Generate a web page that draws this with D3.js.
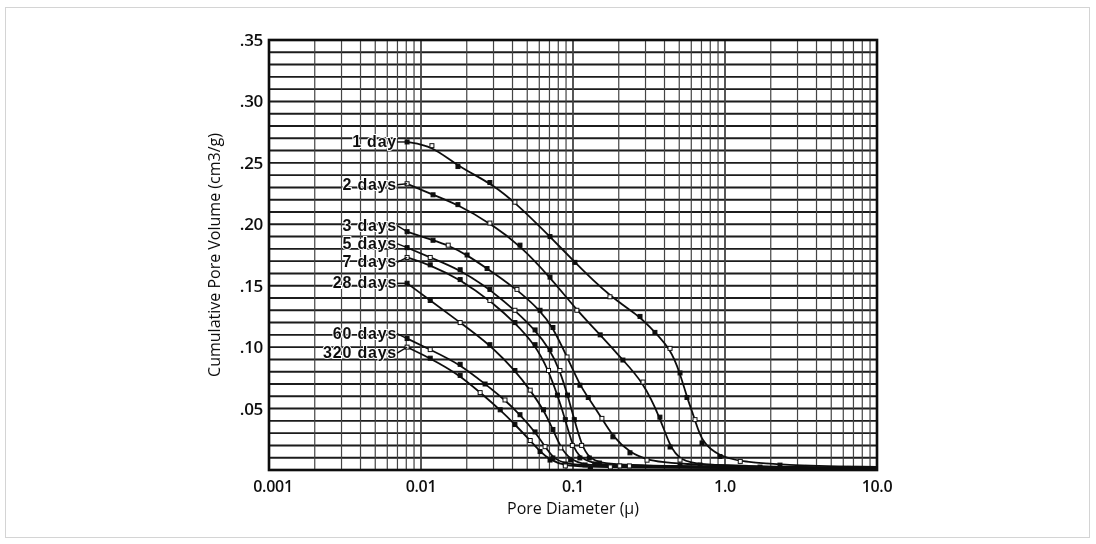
<!DOCTYPE html>
<head>
<meta charset="utf-8">
<title>Cumulative pore volume vs pore diameter</title>
<script src="https://d3js.org/d3.v7.min.js"></script>
<style>
body {
  margin: 0;
  background: #fff;
  font-family: "Open Sans", "Liberation Sans", sans-serif;
}
.grid line {
  stroke: #1a1a1a;
}
.curve {
  fill: none;
  stroke: #111;
  stroke-width: 1.8px;
}
.tick-label {
  font-size: 16px;
  font-weight: 600;
  fill: #111;
  letter-spacing: -0.3px;
}
.axis-title {
  font-size: 16px;
  font-weight: 500;
  fill: #111;
}
.series-label {
  font-family: "Liberation Sans", sans-serif;
  font-size: 16px;
  font-weight: bold;
  letter-spacing: 0.8px;
  fill: #111;
}
</style>
</head>
<body>
<script>

const width = 1096,
  height = 544;

// plot frame
const margin = {top: 40, right: 219, bottom: 74, left: 269};

// tick labels
const yTicks = [0.05, 0.10, 0.15, 0.20, 0.25, 0.30, 0.35];
const yTickLabels = [".05", ".10", ".15", ".20", ".25", ".30", ".35"];
const xTicks = [0.001, 0.01, 0.1, 1, 10];
const xTickLabels = ["0.001", "0.01", "0.1", "1.0", "10.0"];

// series: [pore diameter (μ), cumulative pore volume (cm3/g)]
const seriesNames = ["1 day", "2 days", "3 days", "5 days", "7 days", "28 days", "60 days", "320 days"];

const day1 = [[0.0081,0.267],[0.0118,0.264],[0.0175,0.247],[0.0284,0.234],[0.0415,0.218],[0.0706,0.190],
  [0.103,0.169],[0.175,0.141],[0.276,0.125],[0.346,0.112],[0.435,0.099],[0.506,0.079],[0.562,0.059],
  [0.635,0.041],[0.706,0.022],[0.927,0.011],[1.26,0.007],[2.30,0.004],[10,0.0025]];
const day2 = [[0.0081,0.233],[0.0120,0.224],[0.0175,0.216],[0.0284,0.201],[0.0448,0.183],[0.0706,0.157],
  [0.106,0.130],[0.151,0.110],[0.213,0.0895],[0.289,0.0716],[0.373,0.043],[0.435,0.0187],[0.506,0.0081],
  [0.685,0.0041],[1.70,0.0024],[10,0.0016]];
const day3 = [[0.0081,0.194],[0.0120,0.187],[0.0151,0.183],[0.0201,0.175],[0.0272,0.164],[0.0428,0.147],
  [0.0607,0.130],[0.0738,0.116],[0.0914,0.092],[0.111,0.069],[0.126,0.059],[0.155,0.042],[0.183,0.027],
  [0.237,0.014],[0.307,0.008],[0.506,0.004],[10,0.0016]];
const day5 = [[0.0081,0.181],[0.0115,0.173],[0.0181,0.163],[0.0284,0.147],[0.0415,0.130],[0.0563,0.114],
  [0.0706,0.098],[0.082,0.081],[0.092,0.061],[0.102,0.041],[0.114,0.020],[0.128,0.0098],[0.149,0.0057],
  [0.235,0.0033],[10,0.0015]];
const day7 = [[0.0081,0.173],[0.0115,0.167],[0.0181,0.155],[0.0284,0.138],[0.0415,0.120],[0.0563,0.102],
  [0.0690,0.081],[0.079,0.061],[0.089,0.041],[0.099,0.020],[0.111,0.0098],[0.139,0.0049],[0.203,0.0033],
  [10,0.0014]];
const day28 = [[0.0081,0.152],[0.0115,0.138],[0.0181,0.120],[0.0284,0.102],[0.0415,0.081],[0.0523,0.065],
  [0.0640,0.049],[0.0738,0.033],[0.0830,0.018],[0.0965,0.0081],[0.120,0.0041],[0.176,0.0025],[10,0.0012]];
const day60 = [[0.0081,0.107],[0.0115,0.098],[0.0181,0.086],[0.0264,0.070],[0.0357,0.057],[0.0448,0.045],
  [0.0563,0.031],[0.0655,0.019],[0.0738,0.0098],[0.089,0.0049],[0.130,0.0024],[10,0.0010]];
const day320 = [[0.0081,0.100],[0.0115,0.091],[0.0181,0.077],[0.0245,0.063],[0.0332,0.049],[0.0415,0.037],
  [0.0523,0.024],[0.0607,0.015],[0.0706,0.0081],[0.089,0.0033],[0.130,0.0020],[10,0.0010]];

const seriesData = [day1, day2, day3, day5, day7, day28, day60, day320];

// label nudges (px) so the stacked names don't collide, as in the original
const labelShift = [0, 1, -6, -4, 5, 0, -5, 6];

let svg = d3.select('body').append('svg')
  .attr('width', width)
  .attr('height', height);

// light outer border of the figure
svg.append('rect')
  .attr('x', 5.5).attr('y', 7.5)
  .attr('width', 1084).attr('height', 530)
  .attr('fill', 'none')
  .attr('stroke', '#d4d4d4')
  .attr('stroke-width', 1);

// scan-like softening
svg.append('defs').append('filter')
  .attr('id', 'soft')
  .append('feGaussianBlur')
  .attr('stdDeviation', 0.45);

let g = svg.append('g').attr('filter', 'url(#soft)');

let x = d3.scaleLog()
  .domain([0.001, 10])
  .range([margin.left, width - margin.right]);

let y = d3.scaleLinear()
  .domain([0, 0.35])
  .range([height - margin.bottom, margin.top]);

// horizontal grid, every 0.01
let hLines = d3.range(1, 35).map(i => i / 100);
g.append('g').attr('class', 'grid')
  .selectAll('line')
  .data(hLines)
  .enter().append('line')
    .attr('x1', x.range()[0]).attr('x2', x.range()[1])
    .attr('y1', d => y(d)).attr('y2', d => y(d))
    .style('stroke-width', 1.9);

// vertical log grid
let vLines = [];
[0.001, 0.01, 0.1, 1].forEach(dec => {
  for (let k = 1; k <= 9; k++) vLines.push(dec * k);
});
g.append('g').attr('class', 'grid')
  .selectAll('line')
  .data(vLines.filter(d => d > 0.001))
  .enter().append('line')
    .attr('x1', d => x(d)).attr('x2', d => x(d))
    .attr('y1', y(0.35)).attr('y2', y(0))
    .style('stroke', '#444')
    .style('stroke-width', d => (Math.abs(Math.log10(d) - Math.round(Math.log10(d))) < 1e-6 ? 1.8 : 1.2));

// frame
g.append('rect')
  .attr('x', x.range()[0]).attr('y', y(0.35))
  .attr('width', x.range()[1] - x.range()[0])
  .attr('height', y(0) - y(0.35))
  .attr('fill', 'none')
  .attr('stroke', '#111')
  .attr('stroke-width', 2.6);

// y tick labels
g.append('g')
  .selectAll('text')
  .data(yTicks)
  .enter().append('text')
    .attr('class', 'tick-label')
    .attr('x', x.range()[0] - 6)
    .attr('y', d => y(d) + 6)
    .attr('text-anchor', 'end')
    .style('font-size', '17px')
    .text((d, i) => yTickLabels[i]);

// x tick labels
g.append('g')
  .selectAll('text')
  .data(xTicks)
  .enter().append('text')
    .attr('class', 'tick-label')
    .attr('x', d => x(d) + (d === 0.001 ? 4 : 0))
    .attr('y', y(0) + 22)
    .attr('text-anchor', 'middle')
    .text((d, i) => xTickLabels[i]);

// axis titles
g.append('text')
  .attr('class', 'axis-title')
  .attr('transform', 'translate(' + 220 + ',' + 255 + ') rotate(-90)')
  .attr('text-anchor', 'middle')
  .text('Cumulative Pore Volume  (cm3/g)');

g.append('text')
  .attr('class', 'axis-title')
  .attr('x', x(0.1))
  .attr('y', y(0) + 44)
  .attr('text-anchor', 'middle')
  .text('Pore Diameter (μ)');

// fitted curves
let line = d3.line()
  .x(d => x(d[0]))
  .y(d => y(d[1]))
  .curve(d3.curveBasis);

g.append('g')
  .selectAll('path')
  .data(seriesData)
  .enter().append('path')
    .attr('class', 'curve')
    .attr('d', line);

// measured points
seriesData.forEach((s, si) => {
  g.append('g')
    .selectAll('rect')
    .data(s.filter(d => d[0] < 3))
    .enter().append('rect')
      .attr('x', d => x(d[0]) - 2)
      .attr('y', d => y(d[1]) - 2)
      .attr('width', 4).attr('height', 4)
      .attr('fill', (d, i) => (i + si) % 3 === 1 ? '#fff' : '#111')
      .attr('stroke', '#111')
      .attr('stroke-width', 1);
});

// series labels with leader lines
let labels = g.append('g')
  .selectAll('g')
  .data(seriesData)
  .enter().append('g');

labels.append('line')
  .attr('x1', d => x(d[0][0]) - 10)
  .attr('x2', d => x(d[0][0]))
  .attr('y1', (d, i) => y(d[0][1]) + labelShift[i])
  .attr('y2', d => y(d[0][1]))
  .attr('stroke', '#111')
  .attr('stroke-width', 1.4);

labels.append('text')
  .attr('class', 'series-label')
  .attr('x', d => x(d[0][0]) - 10)
  .attr('y', (d, i) => y(d[0][1]) + labelShift[i] + 5)
  .attr('text-anchor', 'end')
  .attr('paint-order', 'stroke')
  .attr('stroke', '#fff')
  .attr('stroke-width', 2)
  .text((d, i) => seriesNames[i]);

</script>
</body>
